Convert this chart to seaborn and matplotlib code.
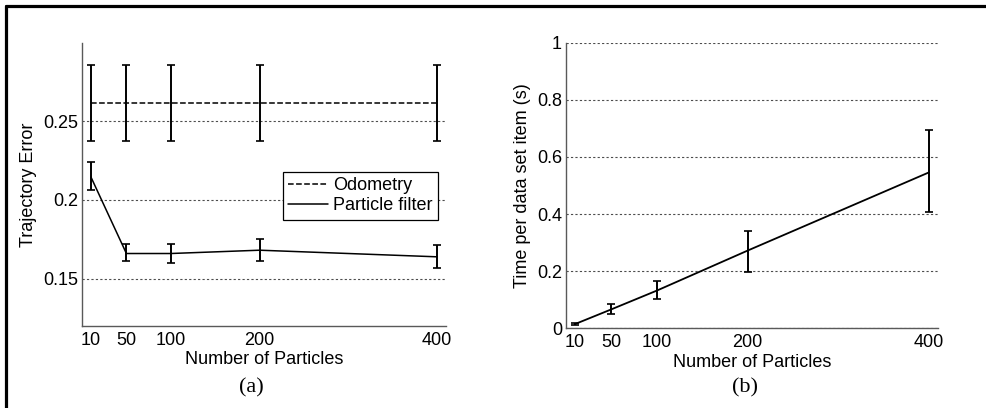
import numpy as np
import pandas as pd
import matplotlib
matplotlib.use("Agg")
import matplotlib.pyplot as plt
import seaborn as sns
from matplotlib.lines import Line2D

# values
particles = [10, 50, 100, 200, 400]

odo_mean = [0.2616, 0.2616, 0.2616, 0.2616, 0.2616]
odo_err = [0.024, 0.024, 0.024, 0.024, 0.024]

pf_mean = [0.2146, 0.166, 0.166, 0.1681, 0.1639]
pf_low = [0.2061, 0.1611, 0.1601, 0.1611, 0.1570]
pf_high = [0.2238, 0.1719, 0.1719, 0.1750, 0.1711]

time_mean = [0.015, 0.0665, 0.132, 0.272, 0.546]
time_low = [0.010, 0.049, 0.1015, 0.198, 0.407]
time_high = [0.020, 0.085, 0.167, 0.342, 0.693]

sns.set_style("white")
plt.rcParams["font.family"] = ["Liberation Sans", "DejaVu Sans"]
plt.rcParams["text.color"] = "black"
plt.rcParams["axes.labelcolor"] = "black"

fig = plt.figure(figsize=(9.87, 4.08), dpi=100)
ax1 = fig.add_axes([0.0831, 0.201, 0.3688, 0.6936])
ax2 = fig.add_axes([0.5735, 0.1953, 0.3769, 0.700])

df_a = pd.DataFrame({"n": particles, "odo": odo_mean, "pf": pf_mean})
df_b = pd.DataFrame({"n": particles, "t": time_mean})

ekw = dict(fmt="none", ecolor="black", elinewidth=1.4, capsize=2.8, capthick=1.2)

# (a) trajectory error
sns.lineplot(data=df_a, x="n", y="odo", ax=ax1, color="black", lw=1.1,
             linestyle="--", label="Odometry")
sns.lineplot(data=df_a, x="n", y="pf", ax=ax1, color="black", lw=1.1,
             label="Particle filter")
ax1.errorbar(particles, odo_mean, yerr=odo_err, **ekw)
pf_yerr = [np.array(pf_mean) - np.array(pf_low), np.array(pf_high) - np.array(pf_mean)]
ax1.errorbar(particles, pf_mean, yerr=pf_yerr, **ekw)
ax1.set_ylim(0.12, 0.2996)
ax1.set_yticks([0.15, 0.2, 0.25])
ax1.set_yticklabels(["0.15", "0.2", "0.25"])
ax1.set_ylabel("Trajectory Error", fontsize=13)
leg = ax1.legend(loc="upper right", bbox_to_anchor=(0.978, 0.544), fontsize=13,
                 frameon=True, fancybox=False, edgecolor="black", framealpha=1,
                 borderaxespad=0, handlelength=2.2, handletextpad=0.3,
                 borderpad=0.3, labelspacing=0.15)
leg.get_frame().set_linewidth(0.9)

# (b) time per item
sns.lineplot(data=df_b, x="n", y="t", ax=ax2, color="black", lw=1.3)
t_yerr = [np.array(time_mean) - np.array(time_low), np.array(time_high) - np.array(time_mean)]
ax2.errorbar(particles, time_mean, yerr=t_yerr, **ekw)
ax2.set_ylim(0, 1)
ax2.set_yticks([0, 0.2, 0.4, 0.6, 0.8, 1])
ax2.set_yticklabels(["0", "0.2", "0.4", "0.6", "0.8", "1"])
ax2.set_ylabel("Time per data set item (s)", fontsize=13)

for ax in (ax1, ax2):
    ax.set_xlim(0, 410)
    ax.set_xticks(particles)
    ax.set_xlabel("Number of Particles", fontsize=13, labelpad=2)
    ax.tick_params(axis="both", direction="in", length=4, width=0.7,
                   labelsize=13, colors="black", pad=4)
    ax.tick_params(axis="y", length=0, pad=3)
    ax.yaxis.grid(True, linestyle=(0, (2, 2)), color="0.3", linewidth=0.8)
    ax.set_axisbelow(True)
    for s in ("top", "right"):
        ax.spines[s].set_visible(False)
    for s in ("left", "bottom"):
        ax.spines[s].set_color("0.35")
        ax.spines[s].set_linewidth(1.0)

fig.text(0.2543, 0.049, "(a)", ha="center", va="center", fontsize=16,
         family=["Liberation Serif", "DejaVu Serif"])
fig.text(0.7548, 0.049, "(b)", ha="center", va="center", fontsize=16,
         family=["Liberation Serif", "DejaVu Serif"])

# outer frame (left and top edges only)
fig.add_artist(Line2D([0.0061, 0.0061], [0, 0.985], transform=fig.transFigure,
                      color="black", lw=2.3))
fig.add_artist(Line2D([0.0061, 1], [0.985, 0.985], transform=fig.transFigure,
                      color="black", lw=2.3))

fig.savefig("out.png", dpi=100)
